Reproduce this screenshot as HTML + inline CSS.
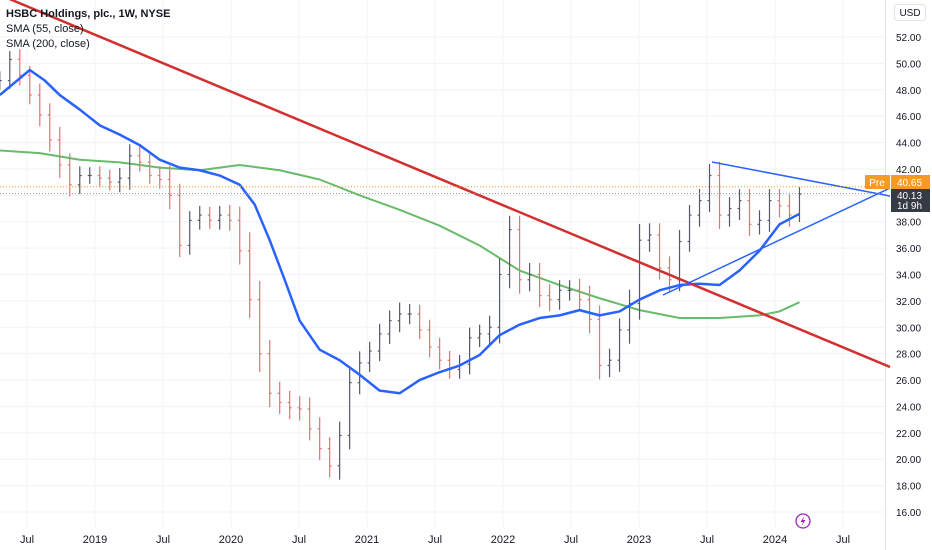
<!DOCTYPE html>
<html><head><meta charset="utf-8">
<style>
body{margin:0;background:#fff;font-family:"Liberation Sans",sans-serif;}
#wrap{position:relative;width:932px;height:550px;overflow:hidden;}
svg{position:absolute;left:0;top:0;}
.legend{position:absolute;left:6px;top:7px;font-size:11px;color:#131722;line-height:15px;}
</style></head><body>
<div id="wrap">
<svg id="chart" width="932" height="550"></svg>
<div class="legend">
<div style="font-weight:bold">HSBC Holdings, plc., 1W, NYSE</div>
<div>SMA (55, close)</div>
<div>SMA (200, close)</div>
</div>
</div>
<script>
const startYear = 2018.30;
const stepYear = 0.0735;
const closes = [48.7,50.3,49.1,47.6,46.1,44.2,42.3,40.8,41.5,41.5,41.3,41.0,41.3,43.0,42.5,41.5,41.2,40.0,36.2,38.1,38.5,38.1,38.5,38.1,35.8,32.1,28.0,25.0,24.3,23.9,23.8,22.3,20.8,19.5,21.8,25.8,27.3,28.2,29.5,30.5,31.0,31.0,29.8,28.5,27.5,26.8,27.2,29.2,29.5,30.0,34.0,37.4,33.6,34.0,32.4,32.1,32.8,32.8,32.1,30.6,27.1,27.5,29.8,31.8,36.6,37.0,34.5,33.6,36.5,38.5,39.6,41.5,38.5,39.0,39.6,37.8,38.1,39.6,39.2,38.5,40.1];
const spreads = [2.0,1.8,2.2,2.0,2.5,2.5,2.8,2.5,2.0,1.8,2.0,1.8,2.2,2.5,2.0,1.8,2.0,3.0,2.5,2.0,2.0,1.8,2.0,2.2,3.0,4.0,4.0,3.0,2.5,2.5,2.5,2.5,2.5,2.5,3.0,3.0,2.5,2.0,2.2,2.2,2.5,2.2,2.0,2.2,2.0,2.0,2.0,2.2,2.0,2.5,3.5,3.0,3.0,2.5,2.5,2.5,2.2,2.2,2.5,3.0,3.0,2.5,2.5,3.0,3.5,2.5,2.5,2.5,2.5,2.2,2.5,2.5,3.0,2.5,2.5,2.5,2.2,2.5,2.5,2.5,1.5];
const sma55X = [0,30,45,60,80,100,120,140,160,180,200,220,240,255,270,285,300,320,340,360,380,400,420,440,460,480,500,520,540,560,580,600,620,640,660,680,700,720,740,760,780,790,800];
const sma55 = [47.6,49.5,48.7,47.6,46.5,45.3,44.6,43.8,42.7,42.1,41.9,41.5,40.8,39.3,36.6,33.6,30.5,28.3,27.5,26.4,25.2,25.0,26.0,26.6,27.1,27.9,29.4,30.2,30.7,30.9,31.3,30.9,31.2,32.1,32.8,33.2,33.3,33.2,34.3,35.8,37.8,38.2,38.6];
const sma200X = [0,40,80,120,160,200,240,280,320,360,400,440,480,520,560,600,640,680,720,760,780,800];
const sma200 = [43.4,43.2,42.7,42.5,42.1,41.9,42.3,41.9,41.2,40.0,38.9,37.7,36.2,34.3,33.2,32.2,31.3,30.7,30.7,30.9,31.2,31.9];
const yTicks = [52,50,48,46,44,42,40,38,36,34,32,30,28,26,24,22,20,18,16];
const xTickLabels = ["Jul","2019","Jul","2020","Jul","2021","Jul","2022","Jul","2023","Jul","2024","Jul"];
const xTickYears = [2018.5,2019,2019.5,2020,2020.5,2021,2021.5,2022,2022.5,2023,2023.5,2024,2024.5];
const prePrice = 40.65, lastPrice = 40.13;

const svg = document.getElementById('chart');
const NS='http://www.w3.org/2000/svg';
const yPx = v => 37 + (52 - v) * 13.194;
const xYear = yr => 95 + (yr - 2019) * 136;
const xIdx = i => xYear(startYear + i*stepYear);
const xFromUnits = u => xIdx(u/10);
function el(tag, attrs, parent){const e=document.createElementNS(NS,tag);for(const k in attrs)e.setAttribute(k,attrs[k]);(parent||svg).appendChild(e);return e;}

yTicks.forEach(v=>{
  const l=el('line',{x1:0,x2:885,y1:yPx(v),y2:yPx(v),stroke:'#f0f3fa','stroke-width':1});
  
  
  if(v===40) return;
  const t=el('text',{x:896,y:yPx(v)+4,'font-size':10,fill:'#131722'});
  t.textContent=v.toFixed(2);
  
  
});
xTickYears.forEach((yr,i)=>{
  const x=xYear(yr);
  const l=el('line',{x1:x,x2:x,y1:0,y2:528,stroke:'#f0f3fa','stroke-width':1});
  
  
  const t=el('text',{x:x,y:543,'font-size':11,fill:'#131722','text-anchor':'middle'});
  t.textContent=xTickLabels[i];
  
  
});
const axisLine=el('line',{x1:885.5,x2:885.5,y1:0,y2:550,stroke:'#e0e3eb'});



const g200=el('polyline',{points:sma200X.map((u,i)=>xFromUnits(u)+','+yPx(sma200[i])).join(' '),fill:'none',stroke:'#4caf50','stroke-width':2,'stroke-opacity':0.85,'stroke-linejoin':'round'});



closes.forEach((c,i)=>{
  const x=xIdx(i);
  const prev=i?closes[i-1]:c;
  const col=c>=prev?'#555a66':'#f06a78';
  const hi=Math.max(c,prev)+spreads[i]*0.35, lo=Math.min(c,prev)-spreads[i]*0.35;
  const g=el('g',{stroke:col,'stroke-width':1.2});
  
  
  el('line',{x1:x,x2:x,y1:yPx(hi),y2:yPx(lo)},g);
  el('line',{x1:x-2,x2:x,y1:yPx(prev),y2:yPx(prev)},g);
  el('line',{x1:x,x2:x+2,y1:yPx(c),y2:yPx(c)},g);
});

const g55=el('polyline',{points:sma55X.map((u,i)=>xFromUnits(u)+','+yPx(sma55[i])).join(' '),fill:'none',stroke:'#2962ff','stroke-width':2.5,'stroke-linejoin':'round'});



const red=el('line',{x1:0,y1:-5,x2:890,y2:367,stroke:'#d32f2f','stroke-width':2.5});


const tri1=el('line',{x1:712,y1:162,x2:890,y2:196,stroke:'#2962ff','stroke-width':1.5});


const tri2=el('line',{x1:663,y1:295,x2:890,y2:188,stroke:'#2962ff','stroke-width':1.5});



const pl=el('line',{x1:0,x2:885,y1:yPx(prePrice),y2:yPx(prePrice),stroke:'#f59a23','stroke-dasharray':'1,2'});


const ll=el('line',{x1:0,x2:885,y1:yPx(lastPrice),y2:yPx(lastPrice),stroke:'#999','stroke-dasharray':'1,2'});



const preBox=el('rect',{x:865,y:175,width:25,height:14,fill:'#f59a23',rx:1});


const preT=el('text',{x:877,y:186,'font-size':10,fill:'#fff','text-anchor':'middle'});preT.textContent='Pre';


const pvBox=el('rect',{x:891,y:175,width:39,height:14,fill:'#f59a23'});


const pvT=el('text',{x:897,y:186,'font-size':10,fill:'#fff'});pvT.textContent=prePrice.toFixed(2);


const lBox=el('rect',{x:891,y:189,width:39,height:23,fill:'#363a45'});


const lT=el('text',{x:897,y:199,'font-size':10,fill:'#fff'});lT.textContent=lastPrice.toFixed(2);


const cT=el('text',{x:897,y:209,'font-size':10,fill:'#fff'});cT.textContent='1d 9h';



const uB=el('rect',{x:894.5,y:4.5,width:31,height:16,fill:'#fff',stroke:'#e0e3eb',rx:3});


const uT=el('text',{x:910,y:16,'font-size':10,fill:'#131722','text-anchor':'middle'});uT.textContent='USD';



const ic=el('circle',{cx:803,cy:521,r:7,fill:'#fff',stroke:'#9c27b0','stroke-width':1.3});


const bolt=el('path',{d:'M804.5 516 L800.5 522 L803 522 L801.5 526 L805.5 520 L803 520 Z',fill:'#9c27b0'});


</script>
</body></html>
